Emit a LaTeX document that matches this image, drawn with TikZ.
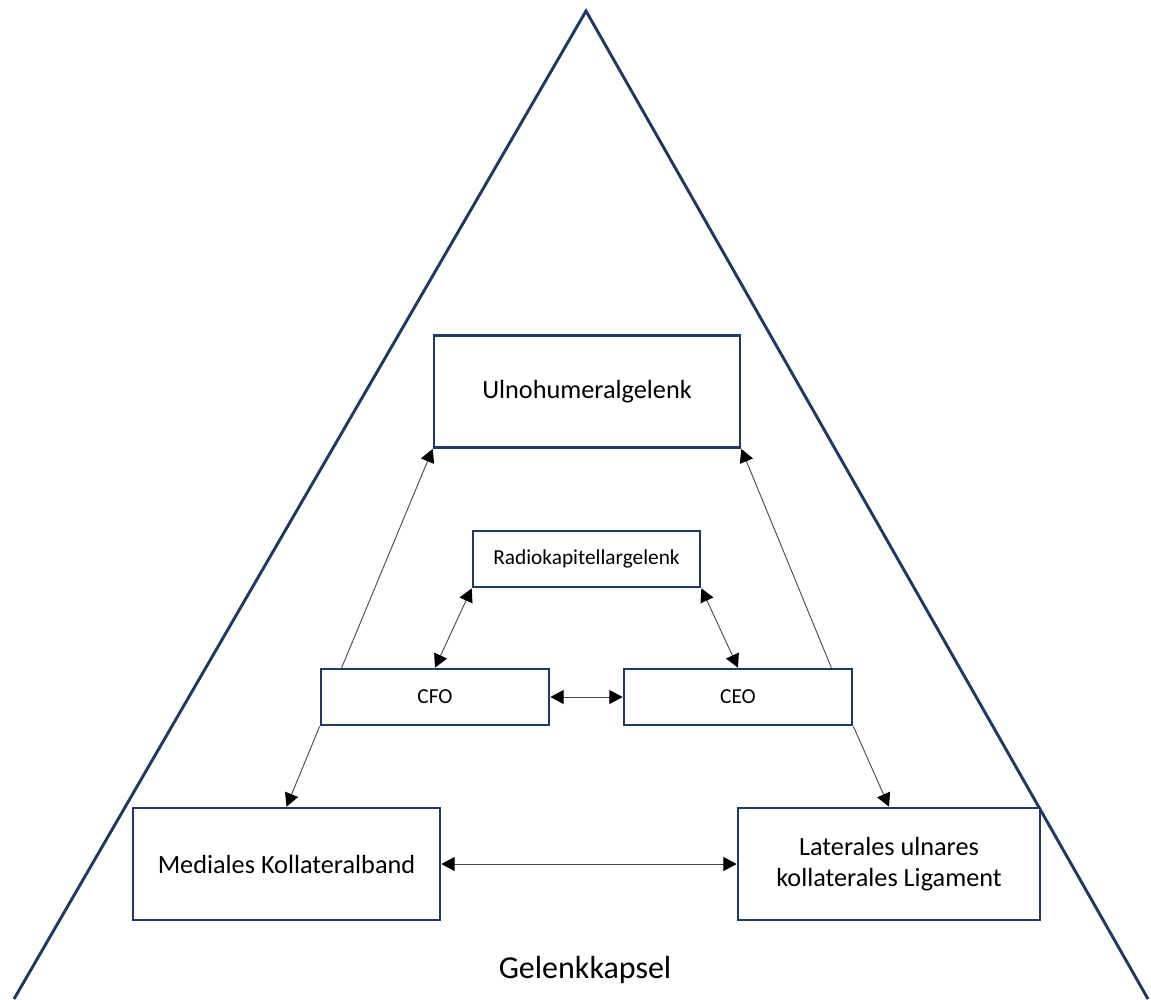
\documentclass[tikz,border=0pt]{standalone}
\usepackage{fontspec}
\setmainfont{Carlito}
\usetikzlibrary{arrows.meta, positioning, calc}
\definecolor{capsblue}{RGB}{31,56,100}

\begin{document}
\begin{tikzpicture}[
			x=0.75pt, y=-0.75pt,
			box/.style={rectangle, draw=capsblue, line width=2pt, fill=white, align=center, inner sep=0pt},
			bigbox/.style={box, minimum height=84pt, font=\fontsize{19.7}{23.6}\selectfont},
			smallbox/.style={box, minimum width=171pt, minimum height=42pt, font=\fontsize{16}{19}\selectfont},
			arrow/.style={-{Triangle[length=10pt, width=10.5pt, color=black]}, line width=0.7pt, draw=black!70},
			twoway/.style={{Triangle[length=10pt, width=10.5pt, color=black]}-{Triangle[length=10pt, width=10.5pt, color=black]}, line width=0.7pt, draw=black!70},
			capsule/.style={draw=capsblue, line width=2.2pt}
			]
			\useasboundingbox (0,0) rectangle (1151,999);
			
			% Gelenkkapsel
			\draw[capsule] (14,999) -- (586,11) -- (1148,999);
			\node[anchor=base, font=\fontsize{24}{28}\selectfont] (kapsel) at (585,978) {Gelenkkapsel};
			
			\node[bigbox, minimum width=229.5pt] (ulno) at (587,391.5) {Ulnohumeralgelenk};
			\node[smallbox, minimum width=170.25pt] (radio) at (586.5,559) {Radiokapitellargelenk};
			\node[smallbox] (cfo) at (435,697) {CFO};
			\node[smallbox] (ceo) at (738,697) {CEO};
			\node[bigbox, minimum width=230.25pt] (medial) at (286.5,864) {Mediales Kollateralband};
			\node[bigbox, minimum width=226.5pt] (lateral) at (889,864) {Laterales ulnares\\kollaterales Ligament};
			
			\draw[arrow] ($(cfo.north west)+(22,0)$) -- (ulno.south west);
			\draw[arrow] ($(ceo.north east)+(-22,0)$) -- (ulno.south east);
			\draw[twoway] (radio.south west) -- (cfo.north);
			\draw[twoway] (radio.south east) -- (ceo.north);
			\draw[twoway] (cfo) -- (ceo);
			\draw[arrow] (cfo.south west) -- (medial.north);
			\draw[arrow] (ceo.south east) -- (lateral.north);
			\draw[twoway] (medial) -- (lateral);
		\end{tikzpicture}
\end{document}
